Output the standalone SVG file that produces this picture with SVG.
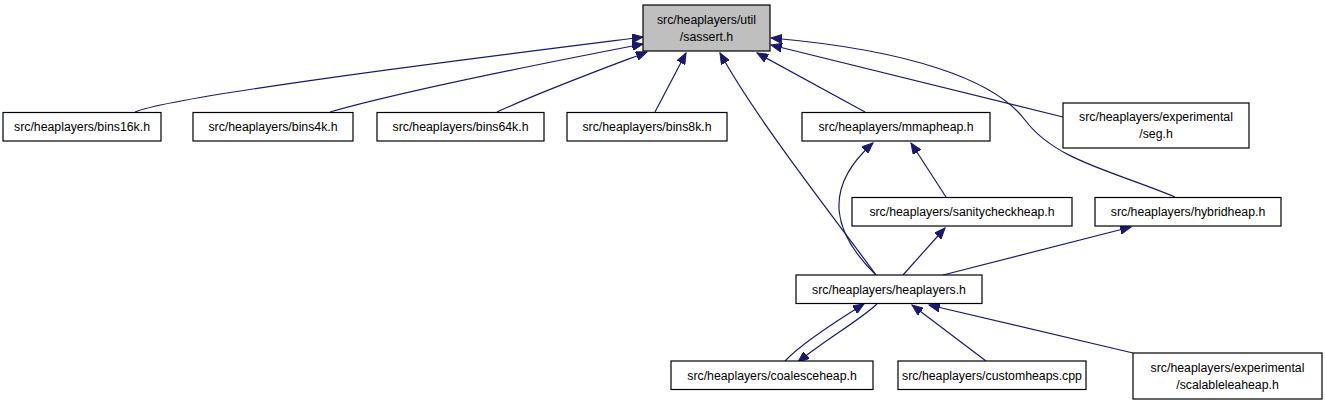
<svg xmlns="http://www.w3.org/2000/svg" width="1325" height="405" viewBox="0 0 1325 405">
<defs>
<marker id="arr" markerUnits="userSpaceOnUse" markerWidth="12" markerHeight="9" refX="11" refY="4.5" orient="auto">
<path d="M0,0 L11,4.5 L0,9 z" fill="#191970" stroke="#191970" stroke-width="1"/>
</marker>
</defs>
<style>
.n rect{fill:#ffffff;stroke:#000000;stroke-width:1.2}
.n.root rect{fill:#bfbfbf}
.n text{font-family:"Liberation Sans",Arial,sans-serif;font-size:12.3px;fill:#000000;text-anchor:middle}
.e path{fill:none;stroke:#191970;stroke-width:1.2;marker-end:url(#arr)}
</style>
<rect width="1325" height="405" fill="#ffffff"/>
<g id="edges" class="e">
<path d="M135,112 C175,95 500,55 643,37"/>
<path d="M330,112 C400,92 560,60 643,44"/>
<path d="M497,112 C540,92 605,68 647,52"/>
<path d="M655,112 L686,53"/>
<path d="M876,275 C840,225 760,125 720,53"/>
<path d="M865,112 L757,53"/>
<path d="M1175,197 C1110,170 1055,160 1025,120 C995,80 910,50 771,38"/>
<path d="M1063,117 L771,45"/>
<path d="M946,197 L911,143"/>
<path d="M876,275 C835,235 820,190 873,143"/>
<path d="M903,275 L945,228"/>
<path d="M943,275 L1131,227"/>
<path d="M785,361 C800,345 830,325 864,304"/>
<path d="M877,304 C860,320 825,340 798,362"/>
<path d="M986,361 L912,305"/>
<path d="M1133,353 L929,305"/>
</g>
<g id="sassert" class="n root"><rect x="643" y="5" width="127" height="46"/><text x="706.5" y="24">src/heaplayers/util</text><text x="706.5" y="41">/sassert.h</text></g>
<g id="bins16k" class="n"><rect x="3" y="112.5" width="158" height="28.5"/><text x="82" y="131">src/heaplayers/bins16k.h</text></g>
<g id="bins4k" class="n"><rect x="193" y="112.5" width="160" height="28.5"/><text x="273" y="131">src/heaplayers/bins4k.h</text></g>
<g id="bins64k" class="n"><rect x="377" y="112.5" width="167" height="28.5"/><text x="460.5" y="131">src/heaplayers/bins64k.h</text></g>
<g id="bins8k" class="n"><rect x="567" y="112.5" width="160" height="28.5"/><text x="647" y="131">src/heaplayers/bins8k.h</text></g>
<g id="mmapheap" class="n"><rect x="802" y="112.5" width="188" height="28.5"/><text x="896" y="131">src/heaplayers/mmapheap.h</text></g>
<g id="seg" class="n"><rect x="1063" y="103" width="186" height="45"/><text x="1156" y="121">src/heaplayers/experimental</text><text x="1156" y="138">/seg.h</text></g>
<g id="sanitycheckheap" class="n"><rect x="852" y="197.5" width="220" height="28.5"/><text x="962" y="216">src/heaplayers/sanitycheckheap.h</text></g>
<g id="hybridheap" class="n"><rect x="1095" y="197.5" width="186" height="28.5"/><text x="1188" y="216">src/heaplayers/hybridheap.h</text></g>
<g id="heaplayers" class="n"><rect x="796" y="275" width="186" height="28.5"/><text x="889" y="293.5">src/heaplayers/heaplayers.h</text></g>
<g id="coalesceheap" class="n"><rect x="671" y="361" width="202" height="28.5"/><text x="772" y="379.5">src/heaplayers/coalesceheap.h</text></g>
<g id="customheaps" class="n"><rect x="898" y="361" width="188" height="28.5"/><text x="992" y="379.5">src/heaplayers/customheaps.cpp</text></g>
<g id="scalableleaheap" class="n"><rect x="1133" y="353" width="189" height="46"/><text x="1227.5" y="371.5">src/heaplayers/experimental</text><text x="1227.5" y="388.5">/scalableleaheap.h</text></g>
</svg>
